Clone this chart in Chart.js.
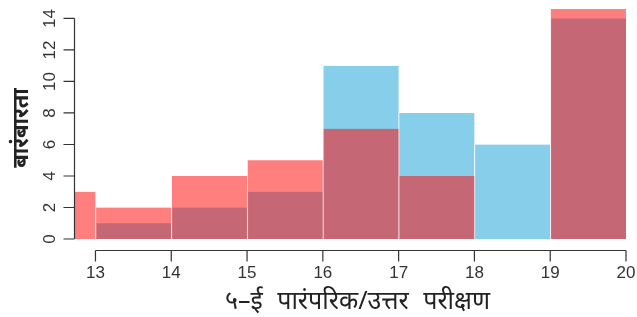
<!DOCTYPE html>
<html>
<head>
<meta charset="utf-8">
<script src="https://cdn.jsdelivr.net/npm/chart.js@4"></script>
<style>
  html, body { margin: 0; padding: 0; background: #fff; }
  #wrap { width: 637px; height: 317px; }
</style>
</head>
<body>
<div id="wrap"><canvas id="c" width="637" height="317"></canvas></div>
<script>
// histogram bins (centres), counts for the two groups
const binCentres = [12.5, 13.5, 14.5, 15.5, 16.5, 17.5, 18.5, 19.5];
const redCounts  = [3, 2, 4, 5, 7, 4, 0, 15];
const blueCounts = [0, 1, 2, 3, 11, 8, 6, 14];
const xTicks = [13, 14, 15, 16, 17, 18, 19, 20];
const yTicks = [0, 2, 4, 6, 8, 10, 12, 14];
const xTitle = '५–ई पारंपरिक/उत्तर परीक्षण';
const yTitle = 'बारंबारता';

const AXIS_COLOR = '#333';
const FONT = '"Liberation Sans", Arial, sans-serif';

function toPoints(counts) { return binCentres.map((x, i) => ({ x, y: counts[i] })); }

// R-style detached axes drawn with the chart's own scales
const rAxes = {
  id: 'rAxes',
  afterDraw(chart) {
    const { ctx, chartArea: a, scales: { x, y } } = chart;
    ctx.save();
    ctx.strokeStyle = AXIS_COLOR; ctx.fillStyle = AXIS_COLOR; ctx.lineWidth = 1.2;

    // y axis
    const ax = Math.round(a.left) - 0.5;
    ctx.beginPath();
    ctx.moveTo(ax, y.getPixelForValue(yTicks[0]));
    ctx.lineTo(ax, y.getPixelForValue(yTicks[yTicks.length - 1]));
    yTicks.forEach(v => { const p = y.getPixelForValue(v); ctx.moveTo(ax, p); ctx.lineTo(ax - 11, p); });
    ctx.stroke();
    ctx.font = '17px ' + FONT; ctx.textAlign = 'center'; ctx.textBaseline = 'middle';
    yTicks.forEach(v => {
      ctx.save(); ctx.translate(ax - 24, y.getPixelForValue(v)); ctx.rotate(-Math.PI / 2);
      ctx.fillText(String(v), 0, 0); ctx.restore();
    });

    // x axis
    const ay = Math.round(a.bottom) + 11.5;
    ctx.beginPath();
    ctx.moveTo(x.getPixelForValue(xTicks[0]), ay);
    ctx.lineTo(x.getPixelForValue(xTicks[xTicks.length - 1]), ay);
    xTicks.forEach(v => { const p = x.getPixelForValue(v); ctx.moveTo(p, ay); ctx.lineTo(p, ay + 11); });
    ctx.stroke();
    xTicks.forEach(v => ctx.fillText(String(v), x.getPixelForValue(v), ay + 23));

    // titles
    ctx.fillStyle = '#222';
    ctx.font = '25px "Noto Sans", ' + FONT;
    ctx.wordSpacing = '8px';
    ctx.fillText(xTitle, (a.left + a.right) / 2 + 7, 302);
    ctx.wordSpacing = '0px';
    ctx.save(); ctx.translate(22, 128); ctx.rotate(-Math.PI / 2);
    ctx.font = 'bold 22px "Noto Sans", ' + FONT;
    ctx.fillText(yTitle, 0, 0); ctx.restore();
    ctx.restore();
  }
};

new Chart(document.getElementById('c'), {
  type: 'bar',
  data: {
    datasets: [
      { label: 'red', data: toPoints(redCounts), backgroundColor: 'rgba(255,10,10,0.52)',
        borderColor: 'rgba(255,255,255,0.45)', borderWidth: { left: 1, right: 0, top: 0, bottom: 0 } },
      { label: 'blue', data: toPoints(blueCounts), backgroundColor: 'rgb(135,206,235)',
        borderColor: 'rgba(255,255,255,0.6)', borderWidth: { left: 1, right: 0, top: 0, bottom: 0 } }
    ]
  },
  options: {
    responsive: false, animation: false,
    layout: { padding: { left: 75, right: 11, top: 9, bottom: 78 } },
    datasets: { bar: { grouped: false, barPercentage: 1, categoryPercentage: 1, borderSkipped: false } },
    plugins: { legend: { display: false }, tooltip: { enabled: false } },
    scales: {
      x: { type: 'linear', display: false, offset: false, min: 12.73, max: 20,
           grid: { offset: false },
           afterBuildTicks: s => { s.ticks = xTicks.map(v => ({ value: v })); } },
      y: { display: false, min: 0, max: 14.6 }
    }
  },
  plugins: [rAxes]
});
</script>
</body>
</html>
